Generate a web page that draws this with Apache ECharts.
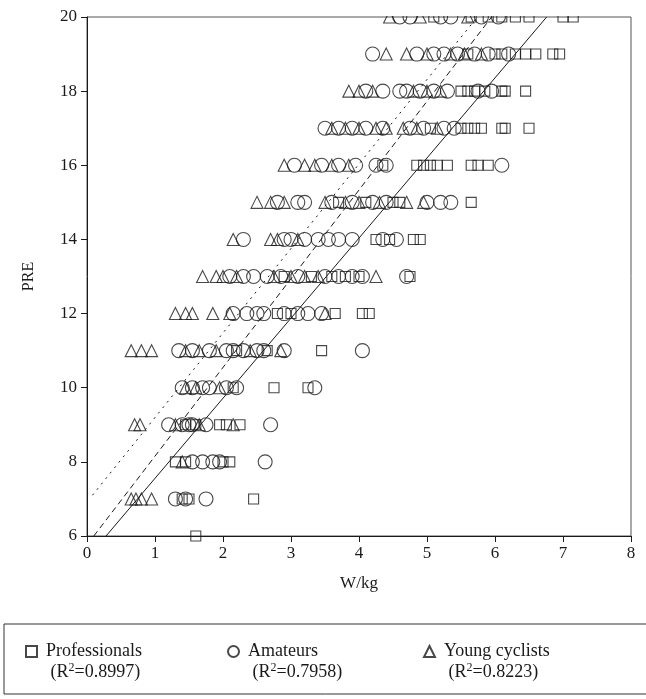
<!DOCTYPE html>
<html>
<head>
<meta charset="utf-8">
<script src="https://cdn.jsdelivr.net/npm/echarts@6/dist/echarts.min.js"></script>
<style>
html,body{margin:0;padding:0;background:#fff;}
#chart{width:646px;height:699px;}
</style>
</head>
<body>
<div id="chart"></div>
<script>
// PRE levels (y values), one row of W/kg values per level for each group
const preLevels = [20,19,18,17,16,15,14,13,12,11,10,9,8,7,6];

const professionalsX = [
  [5.1,5.65,5.9,6.1,6.3,6.5,7.0,7.15],
  [5.6,6.0,6.1,6.3,6.45,6.6,6.85,6.95],
  [5.5,5.6,5.7,5.85,6.1,6.15,6.45],
  [5.05,5.5,5.6,5.7,5.8,6.1,6.15,6.5],
  [4.35,4.85,4.95,5.05,5.15,5.3,5.65,5.75,5.9],
  [3.7,4.1,4.5,4.6,5.65],
  [4.25,4.45,4.8,4.9],
  [2.9,3.3,3.6,3.8,4.0,4.75],
  [2.8,3.0,3.65,4.05,4.15],
  [2.2,2.65,3.45],
  [2.15,2.75,3.25],
  [1.45,1.6,1.95,2.05,2.25],
  [1.3,1.45,2.0,2.1],
  [1.4,1.5,2.45],
  [1.6]
];

const amateursX = [
  [4.6,4.75,5.2,5.35,5.8,6.05],
  [4.2,4.85,5.1,5.25,5.45,5.7,5.9,6.2],
  [4.1,4.35,4.6,4.7,4.9,5.1,5.3,5.75,5.95],
  [3.5,3.7,3.9,4.1,4.35,4.75,4.95,5.25,5.4],
  [3.05,3.45,3.7,3.95,4.25,4.4,6.1],
  [2.8,3.1,3.2,3.6,3.9,4.2,4.4,5.0,5.2,5.35],
  [2.3,2.9,3.0,3.2,3.4,3.55,3.7,3.9,4.35,4.55],
  [2.1,2.3,2.45,2.65,2.85,3.1,3.5,3.7,3.9,4.05,4.7],
  [2.15,2.35,2.5,2.6,2.9,3.1,3.25,3.45],
  [1.35,1.55,1.8,2.05,2.15,2.3,2.5,2.6,2.9,4.05],
  [1.4,1.55,1.7,1.8,2.05,2.2,3.35],
  [1.2,1.4,1.5,1.55,1.75,2.7],
  [1.55,1.7,1.85,1.95,2.62],
  [1.3,1.45,1.75],
  []
];

const youngX = [
  [4.45,4.9,5.6],
  [4.4,4.7,5.0,5.35,5.55,5.8],
  [3.85,4.0,4.2,4.8,5.0,5.2],
  [3.6,3.8,4.0,4.25,4.4,4.65,4.85,5.15],
  [2.9,3.2,3.35,3.6,3.85],
  [2.5,2.7,2.9,3.5,3.8,4.0,4.3,4.7,4.95],
  [2.15,2.7,2.8,3.1],
  [1.7,1.9,2.0,2.2,2.75,3.0,3.2,3.4,4.25],
  [1.3,1.45,1.55,1.85,2.1,3.5],
  [0.65,0.8,0.95,1.45,1.65,1.9,2.4,2.85],
  [1.45,1.6,1.95],
  [0.7,0.78,1.3,1.65,2.15],
  [1.4],
  [0.65,0.72,0.8,0.95],
  []
];

// regression line end points [W/kg, PRE]
const fitProfessionals = [[0.28,6],[6.76,20]];
const fitAmateurs = [[0.1,6],[5.95,20]];
const fitYoung = [[0.08,7.1],[5.74,20]];

const seriesNames = ['Professionals','Amateurs','Young cyclists'];
const r2Values = ['0.8997','0.7958','0.8223'];

const xTicks = [0,1,2,3,4,5,6,7,8];
const yTicks = [6,8,10,12,14,16,18,20];

function toPoints(rows){
  const out = [];
  rows.forEach((row,i)=>row.forEach(x=>out.push([x, preLevels[i]])));
  return out;
}

const FONT = "'Liberation Serif','DejaVu Serif',serif";
const INK = '#1a1a1a';

const chart = echarts.init(document.getElementById('chart'), null, {renderer:'canvas'});

const symbolStyle = {color:'rgba(0,0,0,0)', borderColor:INK, borderWidth:1.1};

function legendFor(i, left){
  return {
    data:[seriesNames[i]],
    left:left, top:620,
    orient:'horizontal',
    padding:0,
    itemWidth:11, itemHeight:11,
    selectedMode:false,
    formatter: function(name){
      const k = seriesNames.indexOf(name);
      return '{t|}\n{t|' + name + '}\n{t| (R}{s|2}{t|=' + r2Values[k] + ')}';
    },
    textStyle:{
      fontFamily:FONT, fontSize:18, color:INK, lineHeight:21, padding:[0,0,0,4],
      rich:{
        t:{fontFamily:FONT, fontSize:18, color:INK, lineHeight:21},
        s:{fontFamily:FONT, fontSize:12, color:INK, lineHeight:21, verticalAlign:'top', padding:[0,0,6,0]}
      }
    }
  };
}

chart.setOption({
  animation:false,
  backgroundColor:'#fff',
  grid:{left:87, right:15, top:17, bottom:163, show:true, borderColor:'#555', borderWidth:1, backgroundColor:'transparent'},
  xAxis:{
    type:'value', min:xTicks[0], max:xTicks[xTicks.length-1], interval:1,
    name:'W/kg', nameLocation:'middle', nameGap:39,
    nameTextStyle:{fontFamily:FONT, fontSize:17, color:INK},
    axisLine:{show:true, onZero:false, lineStyle:{color:INK, width:1}},
    axisTick:{show:true, inside:false, length:6, lineStyle:{color:INK}},
    axisLabel:{fontFamily:FONT, fontSize:17, color:INK, margin:9},
    splitLine:{show:false}
  },
  yAxis:{
    type:'value', min:yTicks[0], max:yTicks[yTicks.length-1], interval:2,
    name:'PRE', nameLocation:'middle', nameGap:50, nameRotate:90,
    nameTextStyle:{fontFamily:FONT, fontSize:16, color:INK},
    axisLine:{show:true, onZero:false, lineStyle:{color:INK, width:1}},
    axisTick:{show:true, inside:false, length:6, lineStyle:{color:INK}},
    axisLabel:{fontFamily:FONT, fontSize:17, color:INK, margin:10},
    splitLine:{show:false}
  },
  legend:[legendFor(0,25), legendFor(1,227), legendFor(2,423)],
  graphic:[
    {type:'rect', shape:{x:86, y:0, width:548, height:16}, style:{fill:'#fff'}, z:100, silent:true},
    {type:'rect', shape:{x:4, y:624, width:700, height:70}, style:{fill:'none', stroke:'#333', lineWidth:1}, z:1, silent:true}
  ],
  series:[
    {name:'Professionals', type:'scatter', symbol:'rect', symbolSize:10, data:toPoints(professionalsX), itemStyle:symbolStyle, z:3},
    {name:'Amateurs', type:'scatter', symbol:'circle', symbolSize:14, data:toPoints(amateursX), itemStyle:symbolStyle, z:3},
    {name:'Young cyclists', type:'scatter', symbol:'triangle', symbolSize:12, data:toPoints(youngX), itemStyle:symbolStyle, z:3},
    {name:'Professionals fit', type:'line', data:fitProfessionals, symbol:'none', lineStyle:{color:INK, width:1, type:'solid'}, z:4},
    {name:'Amateurs fit', type:'line', data:fitAmateurs, symbol:'none', lineStyle:{color:INK, width:1, type:[6,4]}, z:4},
    {name:'Young cyclists fit', type:'line', data:fitYoung, symbol:'none', lineStyle:{color:INK, width:1, type:[2,5]}, z:4}
  ]
});
</script>
</body>
</html>
